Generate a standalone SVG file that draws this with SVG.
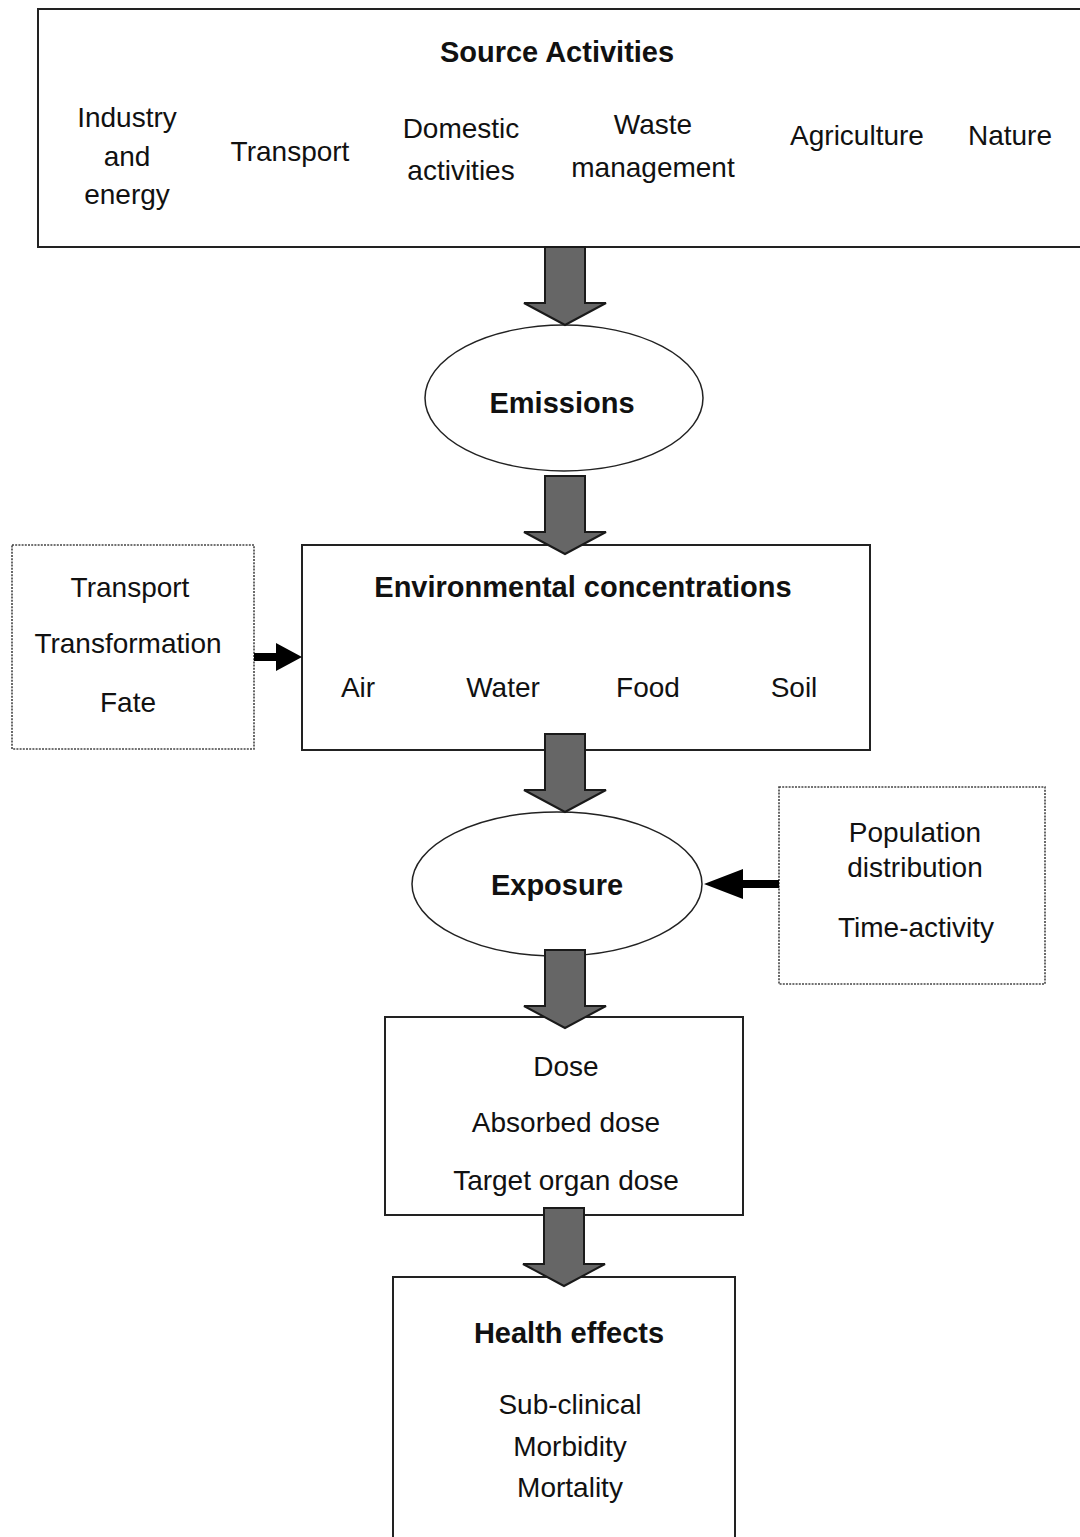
<svg xmlns="http://www.w3.org/2000/svg" xmlns:xlink="http://www.w3.org/1999/xlink" width="1080" height="1537" viewBox="0 0 1080 1537">
<style>
text{font-family:"Liberation Sans",Arial,sans-serif;font-size:28px;fill:#111;text-anchor:middle}
.b{font-weight:bold;font-size:29px}
.box{fill:#fff;stroke:#222;stroke-width:2}
.dot{fill:#fff;stroke:#444;stroke-width:1.6;stroke-dasharray:2 1.2}
.big{fill:#666;stroke:#1a1a1a;stroke-width:2;stroke-linejoin:miter}
.blk{fill:#000}
</style>
<defs>
<path id="bigArrow" d="M-20,0 L20,0 L20,56 L41,56 L0,78 L-41,56 L-20,56 Z"/>
</defs>
<rect width="1080" height="1537" fill="#fff"/>

<g id="source">
<rect class="box" x="38" y="9" width="1060" height="238"/>
<text class="b" x="557" y="62">Source Activities</text>
<text x="127" y="127">Industry</text>
<text x="127" y="166">and</text>
<text x="127" y="204">energy</text>
<text x="290" y="161">Transport</text>
<text x="461" y="138">Domestic</text>
<text x="461" y="180">activities</text>
<text x="653" y="134">Waste</text>
<text x="653" y="177">management</text>
<text x="857" y="145">Agriculture</text>
<text x="1010" y="145">Nature</text>
</g>

<g id="emissions">
<ellipse cx="564" cy="398" rx="139" ry="73" fill="#fff" stroke="#222" stroke-width="1.5"/>
<text class="b" x="562" y="413">Emissions</text>
</g>

<g id="transportBox">
<rect class="dot" x="12" y="545" width="242" height="204"/>
<text x="130" y="597">Transport</text>
<text x="128" y="653">Transformation</text>
<text x="128" y="712">Fate</text>
</g>

<g id="envconc">
<rect class="box" x="302" y="545" width="568" height="205"/>
<text class="b" x="583" y="597">Environmental concentrations</text>
<text x="358" y="697">Air</text>
<text x="503" y="697">Water</text>
<text x="648" y="697">Food</text>
<text x="794" y="697">Soil</text>
</g>

<g id="exposure">
<ellipse cx="557" cy="884" rx="145" ry="72" fill="#fff" stroke="#222" stroke-width="1.5"/>
<text class="b" x="557" y="895">Exposure</text>
</g>

<g id="population">
<rect class="dot" x="779" y="787" width="266" height="197"/>
<text x="915" y="842">Population</text>
<text x="915" y="877">distribution</text>
<text x="916" y="937">Time-activity</text>
</g>

<g id="dose">
<rect class="box" x="385" y="1017" width="358" height="198"/>
<text x="566" y="1076">Dose</text>
<text x="566" y="1132">Absorbed dose</text>
<text x="566" y="1190">Target organ dose</text>
</g>

<g id="health">
<rect class="box" x="393" y="1277" width="342" height="280"/>
<text class="b" x="569" y="1343">Health effects</text>
<text x="570" y="1414">Sub-clinical</text>
<text x="570" y="1456">Morbidity</text>
<text x="570" y="1497">Mortality</text>
</g>

<g id="connectors">
<use xlink:href="#bigArrow" class="big" x="565" y="247"/>
<use xlink:href="#bigArrow" class="big" x="565" y="476"/>
<use xlink:href="#bigArrow" class="big" x="565" y="734"/>
<use xlink:href="#bigArrow" class="big" x="565" y="950"/>
<use xlink:href="#bigArrow" class="big" x="564" y="1208"/>
<path class="blk" d="M254,653 L276,653 L276,643 L302,657 L276,671 L276,661 L254,661 Z"/>
<path class="blk" d="M779,880 L743,880 L743,869 L704,884 L743,899 L743,888 L779,888 Z"/>
</g>
</svg>
